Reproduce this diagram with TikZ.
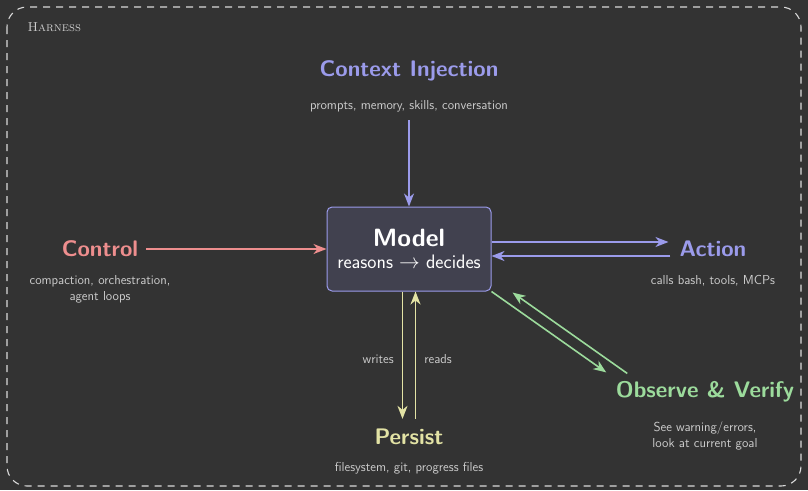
\documentclass[tikz,border=0pt]{standalone}
\usepackage{fontspec}
\usepackage{amsmath}
\usetikzlibrary{arrows.meta}
\definecolor{bgdark}{HTML}{333333}
\definecolor{modelfill}{HTML}{41414F}
\definecolor{lavender}{HTML}{9B9BEB}
\definecolor{salmon}{HTML}{EE8E8E}
\definecolor{sage}{HTML}{9CDB9C}
\definecolor{straw}{HTML}{E3E3A5}
\definecolor{softgray}{HTML}{CCCCCC}
\tikzset{
  title/.style={font=\sffamily\bfseries\fontsize{22.5}{26}\selectfont, inner sep=2pt},
  sub/.style={font=\sffamily\fontsize{13}{16}\selectfont, text=softgray, align=center, inner sep=2pt},
  link/.style={-{Stealth[length=13pt,width=10pt,inset=4pt]}, line width=1.6pt},
}

\begin{document}
\begin{tikzpicture}[x=1pt, y=-1pt]
    \fill [bgdark] (0,0) rectangle (808,490);
    \useasboundingbox (0,0) rectangle (808,490);
    \draw [white!85!black, line width=1.1pt, dash pattern=on 7pt off 6pt, rounded corners=20pt] (7,7) rectangle (801,486);
    \node at (24,27) [anchor=west, font=\rmfamily\scshape\fontsize{13}{15}\selectfont, text=softgray] (harness) {Harness};
    \node at (409,249) [draw=lavender, fill=modelfill, line width=1pt, rounded corners=5pt, minimum width=164pt, minimum height=84pt, align=center, text=white] (model)
        {{\sffamily\bfseries\fontsize{25}{28}\selectfont Model}\\[7pt]{\sffamily\fontsize{19.5}{22}\selectfont reasons $\rightarrow$ decides}};
    \node at (409,71) [title, text=lavender] (context) {Context Injection};
    \node at (409,106) [sub] (contextsub) {prompts, memory, skills, conversation};
    \node at (100,249) [title, text=salmon] (control) {Control};
    \node at (100,289.5) [sub] (controlsub) {compaction, orchestration,\\agent loops};
    \node at (713,249) [title, text=lavender] (action) {Action};
    \node at (713,281) [sub] (actionsub) {calls bash, tools, MCPs};
    \node at (705,392) [title, text=sage] (observe) {Observe \& Verify};
    \node at (705,436) [sub] (observesub) {See warning/errors,\\look at current goal};
    \node at (409,437) [title, text=straw] (persist) {Persist};
    \node at (409,468) [sub] (persistsub) {filesystem, git, progress files};
    \draw [link, lavender, shorten <=6pt] (contextsub) -- (model);
    \draw [link, salmon, shorten <=6pt] (control) -- (model);
    \draw [link, lavender, shorten >=9pt] ([yshift=7pt]model.east) -- ([yshift=7pt]action.west);
    \draw [link, lavender, shorten <=7pt] ([yshift=-7pt]action.west) -- ([yshift=-7pt]model.east);
    \draw [link, straw, shorten >=8pt] ([xshift=-6.5pt]model.south) -- ([xshift=-6.5pt]persist.north)
        node [sub, midway, left=6pt] {writes};
    \draw [link, straw, shorten <=8pt] ([xshift=6.5pt]persist.north) -- ([xshift=6.5pt]model.south)
        node [sub, midway, right=6pt] {reads};
    \draw [link, sage] (model.south east) -- ([shift={(-7.5,-7)}]observe.north west);
    \draw [link, sage] ([shift={(13.5,-6)}]observe.north west) -- ([shift={(21,1)}]model.south east);
\end{tikzpicture}
\end{document}
